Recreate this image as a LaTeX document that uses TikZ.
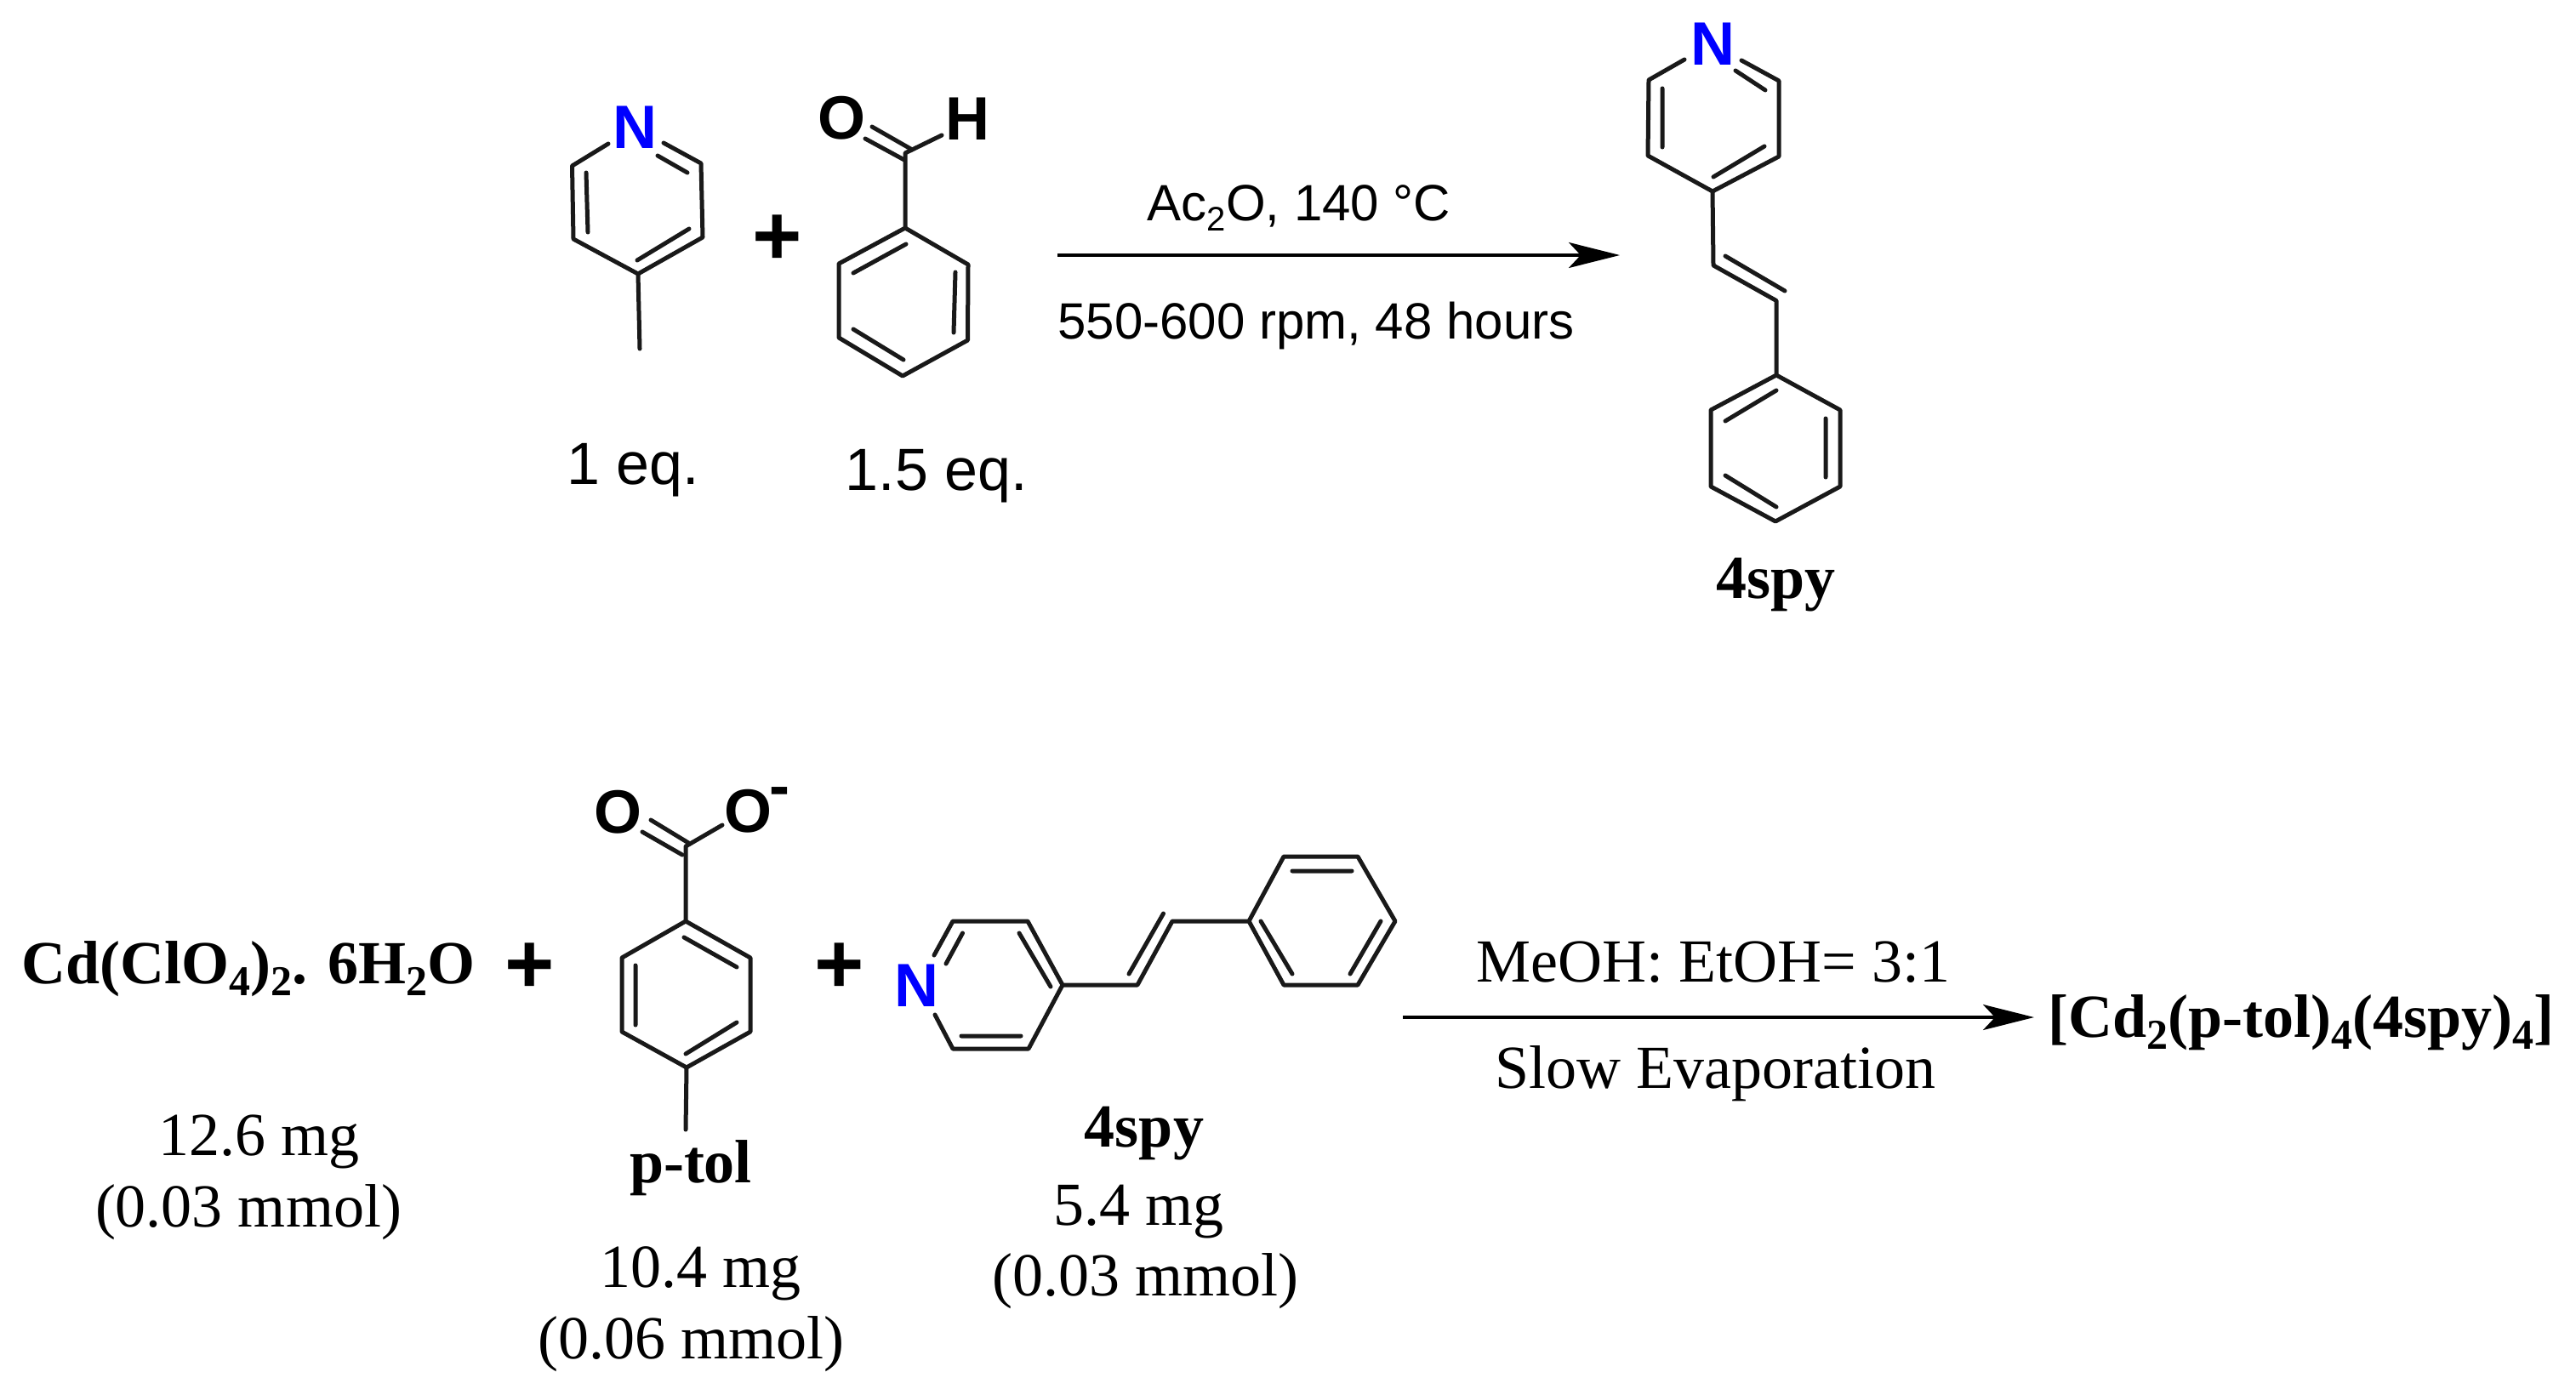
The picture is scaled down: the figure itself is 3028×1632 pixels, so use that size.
\documentclass[tikz,border=0pt]{standalone}
\usepackage{fontspec}
\setmainfont{Liberation Serif}
\setsansfont{Liberation Sans}
\usetikzlibrary{arrows.meta}
\definecolor{nblue}{RGB}{0,0,255}
\newcommand{\subS}[1]{\raisebox{-.2em}{\fontsize{20}{22}\selectfont #1}}
\newcommand{\subT}[1]{\raisebox{-.2em}{\fontsize{25}{27}\selectfont #1}}
\tikzset{
  x=.5pt,y=-.5pt,
  bond/.style={draw=black!90,line width=2.5pt,line cap=round,line join=round},
  rxn/.style={draw=black,line width=1.6pt,-{Stealth[length=30pt,width=15pt,inset=7pt]}},
  atom/.style={inner sep=0pt,font=\sffamily\bfseries\fontsize{36}{40}\selectfont},
  natom/.style={atom,text=nblue},
  plussign/.style={inner sep=0pt,font=\sffamily\bfseries\fontsize{50}{50}\selectfont},
  arial/.style={inner sep=0pt,font=\sffamily\fontsize{30}{34}\selectfont},
  arialbig/.style={inner sep=0pt,font=\sffamily\fontsize{35}{40}\selectfont},
  times/.style={inner sep=0pt,font=\rmfamily\fontsize{36}{40}\selectfont},
  timesb/.style={inner sep=0pt,font=\rmfamily\bfseries\fontsize{36}{40}\selectfont},
}
\begin{document}
\begin{tikzpicture}
\useasboundingbox (0,0) rectangle (3028,1632);
% 4-methylpyridine
\node[natom] (n1) at (746,150) {N};
\coordinate (a1) at (715,169); \coordinate (a2) at (672.5,195); \coordinate (a3) at (674,281);
\coordinate (a4) at (750,322); \coordinate (a5) at (826,279); \coordinate (a6) at (824,192);
\coordinate (a7) at (780,168); \coordinate (a8) at (752,410);
\draw[bond] (a1)--(a2)--(a3)--(a4)--(a5)--(a6)--(a7);
\draw[bond] (a4)--(a8);
\draw[bond] (773,183)--(808,203) (689,203)--(691,273) (749,306)--(810,269);
\node[plussign] (p1) at (914,282) {+};
\node[arialbig] (e1) at (744,553) {1 eq.};
% benzaldehyde
\node[atom] (o1) at (989,139) {O};
\node[atom] (h1) at (1137,140) {H};
\coordinate (b0) at (1064,180); \coordinate (b1) at (1064,268); \coordinate (b2) at (986,310);
\coordinate (b3) at (986,397); \coordinate (b4) at (1061,442); \coordinate (b5) at (1137.5,400);
\coordinate (b6) at (1138,311); \coordinate (b7) at (1107,159);
\draw[bond] (b7)--(b0)--(b1)--(b2)--(b3)--(b4)--(b5)--(b6)--(b1);
\draw[bond] (1025,149)--(1070.5,175) (1017,163)--(1063,188);
\draw[bond] (1003,321)--(1065,287) (1123,320)--(1121,391) (1003,387)--(1062,423);
\node[arialbig] (e2) at (1101,560) {1.5 eq.};
% arrow 1
\coordinate (r1s) at (1243,300); \coordinate (r1e) at (1904,300);
\draw[rxn] (r1s)--(r1e);
\node[arial] (c1) at (1527,245) {Ac\subS{2}O, 140 °C};
\node[arial] (c2) at (1547,383) {550-600 rpm, 48 hours};
% 4spy top
\node[natom] (n2) at (2013,52) {N};
\coordinate (s1) at (1980,70); \coordinate (s2) at (1938,94); \coordinate (s3) at (1937,183);
\coordinate (s4) at (2013,225); \coordinate (s5) at (2091,184); \coordinate (s6) at (2091,95);
\coordinate (s7) at (2047,71); \coordinate (s8) at (2014,312); \coordinate (s9) at (2088,353.5);
\coordinate (t1) at (2088,441); \coordinate (t2) at (2011,482); \coordinate (t3) at (2011,572);
\coordinate (t4) at (2087,613); \coordinate (t5) at (2163,572); \coordinate (t6) at (2163,482);
\draw[bond] (s1)--(s2)--(s3)--(s4)--(s5)--(s6)--(s7);
\draw[bond] (s4)--(s8)--(s9)--(t1)--(t2)--(t3)--(t4)--(t5)--(t6)--(t1);
\draw[bond] (2040,83)--(2075,106) (1954,104)--(1954,173) (2014,208)--(2074,172);
\draw[bond] (2028,301)--(2098,342);
\draw[bond] (2028,495)--(2088,459) (2146,492)--(2146,561) (2028,559)--(2088,596);
\node[timesb] (l1) at (2087,688) {4spy};
% bottom row
\node[timesb,anchor=west] (cd) at (25,1139) {Cd(ClO\subT{4})\subT{2}. 6H\subT{2}O};
\node[plussign] (p2) at (623,1138) {+};
\node[times] (m1) at (304,1342) {12.6 mg};
\node[times] (m2) at (292,1425) {(0.03 mmol)};
% p-tol
\node[atom] (o2) at (726,955) {O};
\node[atom] (o3) at (879,954) {O};
\node[atom] (mn) at (916,937) {-};
\coordinate (c0) at (806,995); \coordinate (c1a) at (806,1083); \coordinate (c2a) at (882,1126);
\coordinate (c3) at (882,1213); \coordinate (c4) at (807,1255); \coordinate (c5) at (731,1213);
\coordinate (c6) at (731,1126); \coordinate (c7) at (849,970); \coordinate (c8) at (806,1328);
\draw[bond] (c7)--(c0)--(c1a)--(c2a)--(c3)--(c4)--(c5)--(c6)--(c1a);
\draw[bond] (c4)--(c8);
\draw[bond] (765,964)--(811,992) (755,978)--(802,1005);
\draw[bond] (804,1102)--(866,1137) (747,1135)--(747,1205) (806,1239)--(866,1202);
\node[timesb] (l2) at (812,1373) {p-tol};
\node[times] (m3) at (823,1497) {10.4 mg};
\node[times] (m4) at (812,1580) {(0.06 mmol)};
\node[plussign] (p3) at (987,1138) {+};
% 4spy bottom
\node[natom] (n3) at (1077,1159) {N};
\coordinate (d1) at (1098,1123); \coordinate (d2) at (1120,1083); \coordinate (d3) at (1208,1083);
\coordinate (d4) at (1249,1158); \coordinate (d5) at (1209,1233); \coordinate (d6) at (1120,1233);
\coordinate (d7) at (1099,1193); \coordinate (d8) at (1337,1158); \coordinate (d9) at (1378,1083);
\coordinate (f1) at (1468,1083); \coordinate (f2) at (1509,1007); \coordinate (f3) at (1596,1007);
\coordinate (f4) at (1640,1083); \coordinate (f5) at (1596,1158); \coordinate (f6) at (1509,1158);
\draw[bond] (d1)--(d2)--(d3)--(d4)--(d5)--(d6)--(d7);
\draw[bond] (d4)--(d8)--(d9)--(f1)--(f2)--(f3)--(f4)--(f5)--(f6)--(f1);
\draw[bond] (1131.5,1097)--(1112,1133) (1198,1097)--(1235,1160) (1130,1218)--(1200,1218);
\draw[bond] (1327,1145)--(1367.5,1074);
\draw[bond] (1519,1024)--(1589,1024) (1482,1083)--(1519,1145) (1623,1083)--(1587,1145);
\node[timesb] (l3) at (1345,1333) {4spy};
\node[times] (m5) at (1338,1425) {5.4 mg};
\node[times] (m6) at (1346,1506) {(0.03 mmol)};
% arrow 2
\coordinate (r2s) at (1649,1196); \coordinate (r2e) at (2391,1196);
\draw[rxn] (r2s)--(r2e);
\node[times] (c3a) at (2014,1131) {MeOH: EtOH= 3:1};
\node[times] (c4a) at (2016,1262) {Slow Evaporation};
\node[timesb,anchor=west] (pr) at (2407,1202) {[Cd\subT{2}(p-tol)\subT{4}(4spy)\subT{4}]};
\end{tikzpicture}
\end{document}
